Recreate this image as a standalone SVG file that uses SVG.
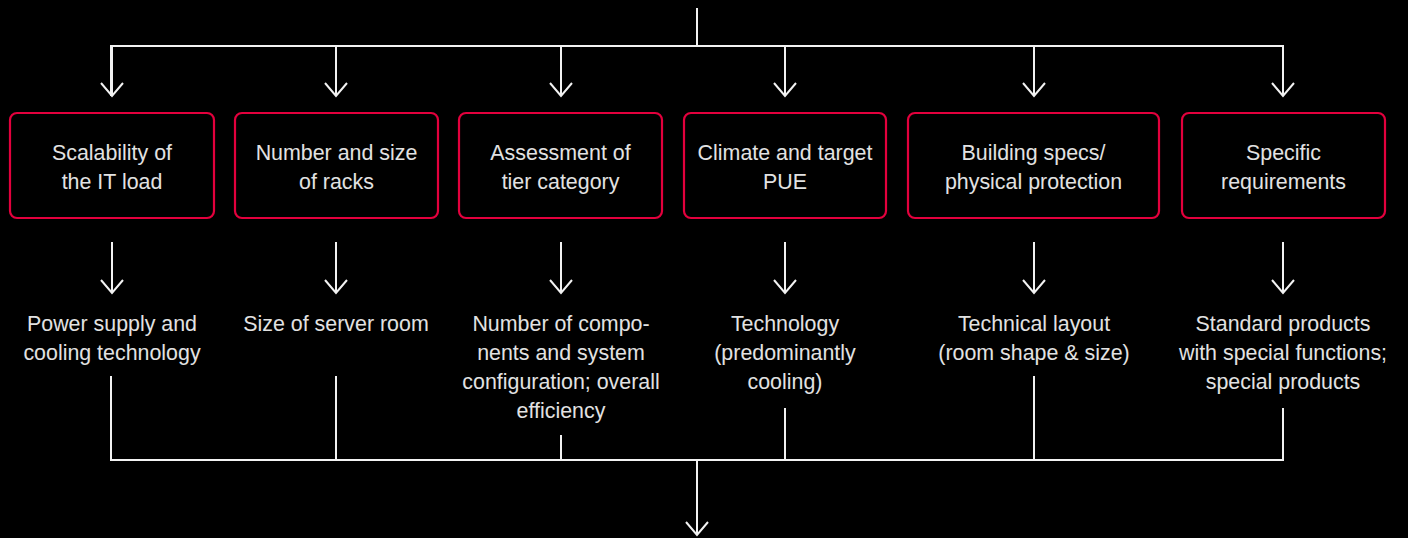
<svg xmlns="http://www.w3.org/2000/svg" width="1408" height="538" viewBox="0 0 1408 538">
<defs>
<style>
.box{fill:#000;stroke:#e3003d;stroke-width:2.2}
.t{font-family:"Liberation Sans",Arial,Helvetica,sans-serif;font-size:21.4px;fill:#e2e2e2;text-anchor:middle}
.ln{fill:none;stroke:#f2f2f2;stroke-width:2}
</style>
<marker id="ah" viewBox="0 0 16 24" refX="14" refY="12" markerWidth="16" markerHeight="24" markerUnits="userSpaceOnUse" orient="auto">
<path d="M1,1 L14,12 L1,23" fill="none" stroke="#f2f2f2" stroke-width="2"/>
</marker>
</defs>
<rect width="1408" height="538" fill="#000"/>
<g id="connectors">
<path class="ln" d="M697,8 V46"/>
<path class="ln" d="M111,96 V46 H1283 V96"/>
<line class="ln" x1="112" y1="46" x2="112" y2="96" marker-end="url(#ah)"/>
<line class="ln" x1="336" y1="46" x2="336" y2="96" marker-end="url(#ah)"/>
<line class="ln" x1="561" y1="46" x2="561" y2="96" marker-end="url(#ah)"/>
<line class="ln" x1="785" y1="46" x2="785" y2="96" marker-end="url(#ah)"/>
<line class="ln" x1="1034" y1="46" x2="1034" y2="96" marker-end="url(#ah)"/>
<line class="ln" x1="1283" y1="46" x2="1283" y2="96" marker-end="url(#ah)"/>
<line class="ln" x1="112" y1="242" x2="112" y2="293" marker-end="url(#ah)"/>
<line class="ln" x1="336" y1="242" x2="336" y2="293" marker-end="url(#ah)"/>
<line class="ln" x1="561" y1="242" x2="561" y2="293" marker-end="url(#ah)"/>
<line class="ln" x1="785" y1="242" x2="785" y2="293" marker-end="url(#ah)"/>
<line class="ln" x1="1034" y1="242" x2="1034" y2="293" marker-end="url(#ah)"/>
<line class="ln" x1="1283" y1="242" x2="1283" y2="293" marker-end="url(#ah)"/>
<path class="ln" d="M111,376 V460 H1283 V408"/>
<line class="ln" x1="336" y1="376" x2="336" y2="460"/>
<line class="ln" x1="561" y1="435" x2="561" y2="460"/>
<line class="ln" x1="785" y1="408" x2="785" y2="460"/>
<line class="ln" x1="1034" y1="376" x2="1034" y2="460"/>
<line class="ln" x1="697" y1="460" x2="697" y2="535" marker-end="url(#ah)"/>
</g>
<g id="n1">
<rect class="box" x="10" y="113" width="204" height="105" rx="7"/>
<text class="t" x="112" y="160">Scalability of</text>
<text class="t" x="112" y="189">the IT load</text>
</g>
<g id="n2">
<rect class="box" x="235" y="113" width="203" height="105" rx="7"/>
<text class="t" x="336.5" y="160">Number and size</text>
<text class="t" x="336.5" y="189">of racks</text>
</g>
<g id="n3">
<rect class="box" x="459" y="113" width="203" height="105" rx="7"/>
<text class="t" x="560.5" y="160">Assessment of</text>
<text class="t" x="560.5" y="189">tier category</text>
</g>
<g id="n4">
<rect class="box" x="684" y="113" width="202" height="105" rx="7"/>
<text class="t" x="785" y="160">Climate and target</text>
<text class="t" x="785" y="189">PUE</text>
</g>
<g id="n5">
<rect class="box" x="908" y="113" width="251" height="105" rx="7"/>
<text class="t" x="1033.5" y="160">Building specs/</text>
<text class="t" x="1033.5" y="189">physical protection</text>
</g>
<g id="n6">
<rect class="box" x="1182" y="113" width="203" height="105" rx="7"/>
<text class="t" x="1283.5" y="160">Specific</text>
<text class="t" x="1283.5" y="189">requirements</text>
</g>
<g id="o1">
<text class="t" x="112" y="331">Power supply and</text>
<text class="t" x="112" y="360">cooling technology</text>
</g>
<g id="o2">
<text class="t" x="336" y="331">Size of server room</text>
</g>
<g id="o3">
<text class="t" x="561" y="331">Number of compo-</text>
<text class="t" x="561" y="360">nents and system</text>
<text class="t" x="561" y="389">configuration; overall</text>
<text class="t" x="561" y="418">efficiency</text>
</g>
<g id="o4">
<text class="t" x="785" y="331">Technology</text>
<text class="t" x="785" y="360">(predominantly</text>
<text class="t" x="785" y="389">cooling)</text>
</g>
<g id="o5">
<text class="t" x="1034" y="331">Technical layout</text>
<text class="t" x="1034" y="360">(room shape &amp; size)</text>
</g>
<g id="o6">
<text class="t" x="1283" y="331">Standard products</text>
<text class="t" x="1283" y="360">with special functions;</text>
<text class="t" x="1283" y="389">special products</text>
</g>
</svg>
